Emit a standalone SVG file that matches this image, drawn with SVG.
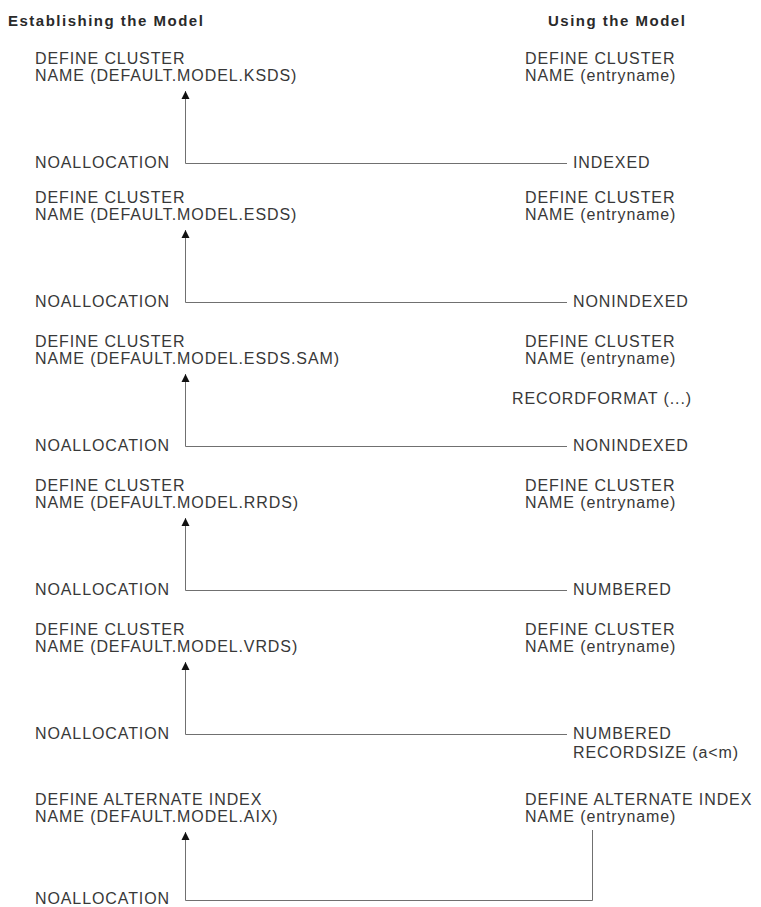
<svg xmlns="http://www.w3.org/2000/svg" width="761" height="907" viewBox="0 0 761 907">
<style>
text{font-family:"Liberation Sans",Arial,sans-serif;font-size:16px;letter-spacing:0.9px;fill:#383838}
.h{font-weight:bold;font-size:15px;letter-spacing:1.5px;fill:#2a2a2a}
.c{fill:none;stroke:#707070;stroke-width:1}
</style>
<defs>
<marker id="ah" markerUnits="userSpaceOnUse" markerWidth="8" markerHeight="9" viewBox="0 0 10 10" refX="10" refY="5" orient="auto">
<path d="M0,0 L10,5 L0,10 z" fill="#111"/>
</marker>
</defs>
<rect width="761" height="907" fill="#fff"/>
<g id="headers">
<text class="h" x="8" y="26">Establishing the Model</text>
<text class="h" x="548" y="26">Using the Model</text>
</g>
<g id="connectors">
<path class="c" marker-end="url(#ah)" d="M567,163.5 H185.5 V91"/>
<path class="c" marker-end="url(#ah)" d="M567,302.5 H185.5 V230"/>
<path class="c" marker-end="url(#ah)" d="M567,446.5 H185.5 V374"/>
<path class="c" marker-end="url(#ah)" d="M567,590.5 H185.5 V518"/>
<path class="c" marker-end="url(#ah)" d="M567,734.5 H185.5 V662"/>
<path class="c" marker-end="url(#ah)" d="M592.5,830 V900.5 H185.5 V832"/>
</g>
<g id="ksds-model"><text x="35" y="64">DEFINE CLUSTER</text><text x="35" y="81">NAME (DEFAULT.MODEL.KSDS)</text></g>
<g id="ksds-noalloc"><text x="35" y="168">NOALLOCATION</text></g>
<g id="ksds-use"><text x="525" y="64">DEFINE CLUSTER</text><text x="525" y="81">NAME (entryname)</text><text x="573" y="168">INDEXED</text></g>

<g id="esds-model"><text x="35" y="203">DEFINE CLUSTER</text><text x="35" y="220">NAME (DEFAULT.MODEL.ESDS)</text></g>
<g id="esds-noalloc"><text x="35" y="307">NOALLOCATION</text></g>
<g id="esds-use"><text x="525" y="203">DEFINE CLUSTER</text><text x="525" y="220">NAME (entryname)</text><text x="573" y="307">NONINDEXED</text></g>

<g id="sam-model"><text x="35" y="347">DEFINE CLUSTER</text><text x="35" y="364">NAME (DEFAULT.MODEL.ESDS.SAM)</text></g>
<g id="sam-noalloc"><text x="35" y="451">NOALLOCATION</text></g>
<g id="sam-use"><text x="525" y="347">DEFINE CLUSTER</text><text x="525" y="364">NAME (entryname)</text><text x="512" y="404">RECORDFORMAT (...)</text><text x="573" y="451">NONINDEXED</text></g>

<g id="rrds-model"><text x="35" y="491">DEFINE CLUSTER</text><text x="35" y="508">NAME (DEFAULT.MODEL.RRDS)</text></g>
<g id="rrds-noalloc"><text x="35" y="595">NOALLOCATION</text></g>
<g id="rrds-use"><text x="525" y="491">DEFINE CLUSTER</text><text x="525" y="508">NAME (entryname)</text><text x="573" y="595">NUMBERED</text></g>

<g id="vrds-model"><text x="35" y="635">DEFINE CLUSTER</text><text x="35" y="652">NAME (DEFAULT.MODEL.VRDS)</text></g>
<g id="vrds-noalloc"><text x="35" y="739">NOALLOCATION</text></g>
<g id="vrds-use"><text x="525" y="635">DEFINE CLUSTER</text><text x="525" y="652">NAME (entryname)</text><text x="573" y="739">NUMBERED</text><text x="573" y="758">RECORDSIZE (a&lt;m)</text></g>

<g id="aix-model"><text x="35" y="805">DEFINE ALTERNATE INDEX</text><text x="35" y="822">NAME (DEFAULT.MODEL.AIX)</text></g>
<g id="aix-noalloc"><text x="35" y="904">NOALLOCATION</text></g>
<g id="aix-use"><text x="525" y="805">DEFINE ALTERNATE INDEX</text><text x="525" y="822">NAME (entryname)</text></g>
</svg>
